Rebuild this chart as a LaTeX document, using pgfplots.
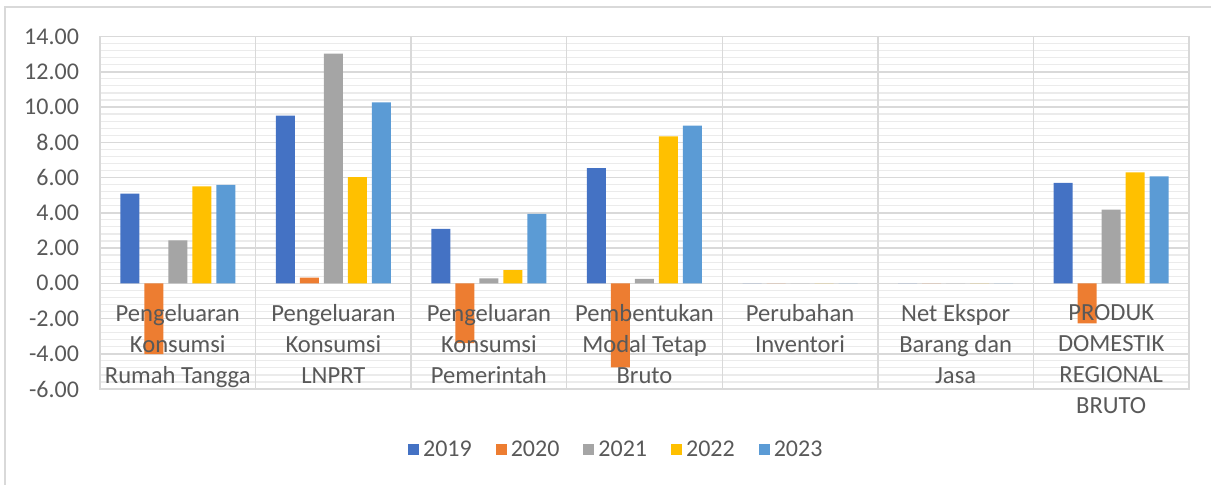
\documentclass[border=0pt]{standalone}
\usepackage{pgfplots}
\pgfplotsset{compat=1.18}
\usepackage{fontspec}
\setmainfont{Carlito}

\definecolor{c19}{HTML}{4472C4}
\definecolor{c20}{HTML}{ED7D31}
\definecolor{c21}{HTML}{A5A5A5}
\definecolor{c22}{HTML}{FFC000}
\definecolor{c23}{HTML}{5B9BD5}
\definecolor{txt}{HTML}{595959}
\definecolor{gmaj}{HTML}{D9D9D9}
\definecolor{gmin}{HTML}{EBEBEB}

\newcommand\catfont{\fontsize{12.3}{15.5}\selectfont}
\newcommand\tickfont{\fontsize{12}{14}\selectfont}
\tikzset{cat/.style={anchor=north, align=center, font=\catfont, text=txt}}

\begin{document}
\begin{tikzpicture}
% chart area frame (left and top edge visible)
\draw[gmaj, line width=0.75pt] (2.5pt,-3pt) -- (2.5pt,238.5pt) -- (612pt,238.5pt);

\begin{axis}[
    at={(50pt,47.5pt)}, anchor=south west,
    scale only axis, clip=false,
    width=544.5pt, height=176.25pt,
    xmin=-0.5, xmax=6.5,
    ymin=-6, ymax=14,
    ybar=2.5pt, bar width=9.5pt,
    xtick={0,...,6},
    xticklabels={},
    extra x ticks={0.5,1.5,...,5.5},
    extra x tick labels={},
    extra x tick style={xmajorgrids=true, major grid style={gmaj, line width=0.75pt}},
    major tick length=0pt, minor tick length=0pt,
    ytick={-6,-4,...,14},
    minor y tick num=4,
    ymajorgrids, yminorgrids,
    major grid style={gmaj, line width=0.75pt},
    minor grid style={gmin, line width=0.6pt},
    axis line style={gmaj, line width=0.75pt},
    y tick label style={
        /pgf/number format/.cd,
        fixed, fixed zerofill, precision=2,
        assume math mode=true,
        /tikz/.cd,
        font=\tickfont, text=txt, xshift=-7pt},
    legend style={
        at={(0.475,-0.173)}, anchor=center,
        legend columns=5, draw=none, fill=none,
        font=\tickfont, text=txt,
        /tikz/every even column/.append style={column sep=10pt}},
    legend image code/.code={\fill[#1] (0pt,-2.75pt) rectangle (5.5pt,2.75pt);},
]

\addplot[fill=c19, draw=none] coordinates {(0,5.09) (1,9.51) (2,3.08) (3,6.53) (4,0) (5,0) (6,5.70)};
\addlegendentry{2019}
\addplot[fill=c20, draw=none] coordinates {(0,-4.02) (1,0.32) (2,-3.40) (3,-4.77) (4,0) (5,0) (6,-2.27)};
\addlegendentry{2020}
\addplot[fill=c21, draw=none] coordinates {(0,2.44) (1,13.03) (2,0.27) (3,0.25) (4,0) (5,0) (6,4.18)};
\addlegendentry{2021}
\addplot[fill=c22, draw=none] coordinates {(0,5.49) (1,6.02) (2,0.74) (3,8.33) (4,0) (5,0) (6,6.29)};
\addlegendentry{2022}
\addplot[fill=c23, draw=none] coordinates {(0,5.58) (1,10.26) (2,3.94) (3,8.94) (4,0) (5,0) (6,6.06)};
\addlegendentry{2023}

% category names sit just under the zero line, over the bars
\node[cat] at (axis cs:0,-0.78) {Pengeluaran\\Konsumsi\\Rumah Tangga};
\node[cat] at (axis cs:1,-0.78) {Pengeluaran\\Konsumsi\\LNPRT};
\node[cat] at (axis cs:2,-0.78) {Pengeluaran\\Konsumsi\\Pemerintah};
\node[cat] at (axis cs:3,-0.78) {Pembentukan\\Modal Tetap\\Bruto};
\node[cat] at (axis cs:4,-0.78) {Perubahan\\Inventori};
\node[cat] at (axis cs:5,-0.78) {Net Ekspor\\Barang dan\\Jasa};
\node[cat] at (axis cs:6,-0.78) {PRODUK\\DOMESTIK\\REGIONAL\\BRUTO};

\end{axis}
\pgfresetboundingbox
\useasboundingbox (0,0) rectangle (605.5pt,242pt);
\end{tikzpicture}
\end{document}
